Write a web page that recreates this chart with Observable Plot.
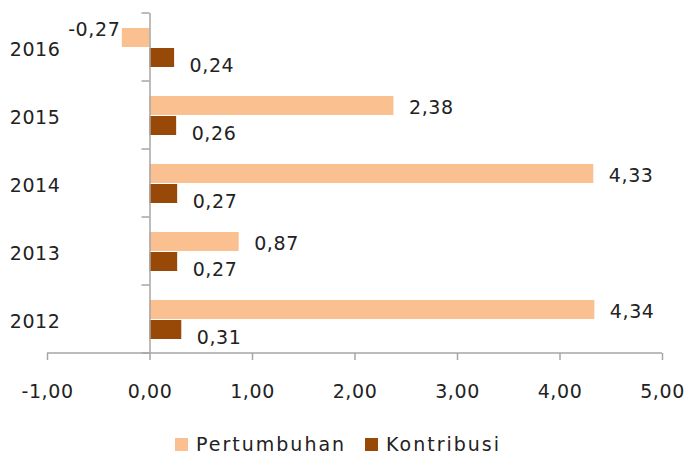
<!DOCTYPE html>
<html>
<head>
<meta charset="utf-8">
<script src="https://cdn.jsdelivr.net/npm/d3@7"></script>
<script src="https://cdn.jsdelivr.net/npm/@observablehq/plot@0.6"></script>
<style>
  html, body { margin: 0; padding: 0; background: #fff; }
  body { width: 692px; height: 454px; overflow: hidden; font-family: "DejaVu Sans", sans-serif; }
  #legend { position: relative; width: 692px; height: 44px; }
  .item { position: absolute; top: 23px; display: flex; align-items: center; font-size: 19px; letter-spacing: 2px; color: #222; }
  .sw { width: 13px; height: 13px; margin-right: 8px; }
</style>
</head>
<body>
<div id="chart"></div>
<div id="legend"></div>
<script>
const years = ["2016", "2015", "2014", "2013", "2012"];
const pertumbuhan = [-0.27, 2.38, 4.33, 0.87, 4.34];
const kontribusi = [0.24, 0.26, 0.27, 0.27, 0.31];
const series = ["Pertumbuhan", "Kontribusi"];
const colors = ["#FAC090", "#984807"];
const xTicks = [-1, 0, 1, 2, 3, 4, 5];

const rows = years.flatMap((y, i) => [
  {year: y, series: series[0], value: pertumbuhan[i]},
  {year: y, series: series[1], value: kontribusi[i]}
]);
const fmt = v => v.toFixed(2).replace(".", ",");
const axisGray = "#a6a6a6";
const textColor = "#222";

const plot = Plot.plot({
  width: 692,
  height: 410,
  marginLeft: 47,
  marginRight: 30,
  marginTop: 12,
  marginBottom: 56,
  style: {fontFamily: "DejaVu Sans", fontSize: "19px", color: textColor, background: "white", letterSpacing: "0.6px"},
  x: {domain: [-1, 5], label: null},
  fy: {domain: years, padding: 0, label: null},
  y: {domain: series, paddingInner: 0.07, paddingOuter: 0.7, axis: null},
  color: {domain: series, range: colors},
  marks: [
    Plot.barX(rows, {fy: "year", y: "series", x: "value", fill: "series"}),
    Plot.ruleX([0], {stroke: axisGray, strokeWidth: 1.5}),
    Plot.axisX(xTicks, {anchor: "bottom", tickSize: 7, text: null, stroke: axisGray, strokeWidth: 1.5}),
    Plot.axisX(xTicks, {anchor: "bottom", tickSize: 0, tickPadding: 31, tickFormat: fmt, fill: textColor, label: null}),
    Plot.axisFy({anchor: "left", tickSize: 0, tickPadding: 0, dx: 13, dy: 2, fill: textColor, label: null, style: {letterSpacing: "1.2px"}}),
    Plot.text(rows.filter(d => d.series === series[0] && d.value >= 0), {
      fy: "year", y: "series", x: "value", text: d => fmt(d.value),
      textAnchor: "start", dx: 15, dy: 2, fill: textColor
    }),
    Plot.text(rows.filter(d => d.series === series[0] && d.value < 0), {
      fy: "year", y: "series", x: "value", text: d => fmt(d.value),
      textAnchor: "end", dx: -2, dy: -8, fill: textColor
    }),
    Plot.text(rows.filter(d => d.series === series[1]), {
      fy: "year", y: "series", x: "value", text: d => fmt(d.value),
      textAnchor: "start", dx: 15, dy: 8, fill: textColor
    })
  ]
});

document.getElementById("chart").appendChild(plot);

// Axis line and category boundary ticks, derived from Plot's own scales
const xs = plot.scale("x");
const fys = plot.scale("fy");
const svg = d3.select(plot);
const g = svg.append("g").attr("stroke", axisGray).attr("stroke-width", 1.5);
const x0 = xs.apply(0);
const bounds = years.map(y => fys.apply(y)).concat([fys.apply(years[years.length - 1]) + fys.bandwidth]);
bounds.forEach(b => {
  g.append("line").attr("x1", x0 - 8).attr("x2", x0).attr("y1", b).attr("y2", b);
});
const yBottom = bounds[bounds.length - 1];
g.append("line")
  .attr("x1", xs.apply(xTicks[0])).attr("x2", xs.apply(xTicks[xTicks.length - 1]))
  .attr("y1", yBottom).attr("y2", yBottom);

// Legend
const legend = document.getElementById("legend");
const lefts = [175, 365];
series.forEach((s, i) => {
  const it = document.createElement("div");
  it.className = "item";
  it.style.left = lefts[i] + "px";
  const sw = document.createElement("span");
  sw.className = "sw";
  sw.style.background = colors[i];
  const tx = document.createElement("span");
  tx.textContent = s;
  it.appendChild(sw);
  it.appendChild(tx);
  legend.appendChild(it);
});
</script>
</body>
</html>
